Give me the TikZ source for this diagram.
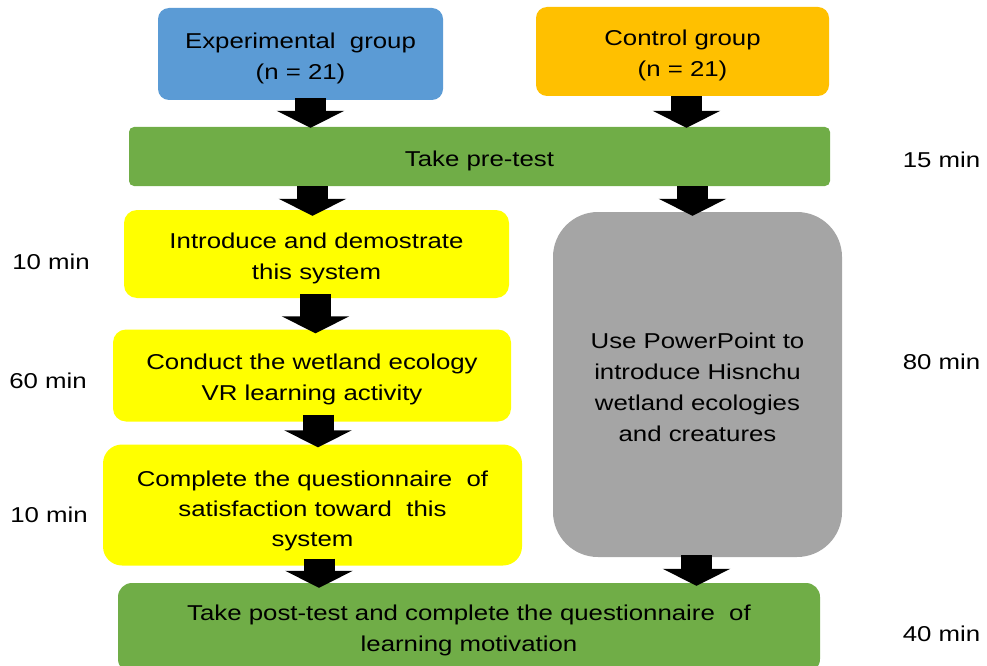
\documentclass[tikz,border=0pt]{standalone}
\usepackage{fontspec}
\setmainfont{Liberation Sans}[FakeStretch=1.2]
\usetikzlibrary{arrows.meta}

\definecolor{expblue}{HTML}{5B9BD5}
\definecolor{ctrlorange}{HTML}{FFC000}
\definecolor{testgreen}{HTML}{70AD47}
\definecolor{actyellow}{HTML}{FFFF00}
\definecolor{pptgray}{HTML}{A5A5A5}

\tikzset{
  box/.style={inner sep=0pt},
  txt/.style={inner sep=0pt, align=center, text=black,
    font=\fontsize{21.5}{31}\selectfont},
  timelabel/.style={inner sep=0pt, text=black,
    font=\fontsize{21.5}{31}\selectfont},
  blk/.style={draw=black, line width=31pt, line cap=butt,
    -{Triangle[width=67pt,length=17pt]}},
}

\begin{document}
\begin{tikzpicture}[x=1pt, y=-1pt]
\useasboundingbox (0,0) rectangle (987,666);

% group boxes
\node[box, fill=expblue, rounded corners=11pt, minimum width=285pt, minimum height=92pt]
  (exp) at (300.5,54) {};
\node[txt] (exp-t) at ([yshift=-4.5pt]exp.center) {Experimental\ \ group\\(n = 21)};
\node[box, fill=ctrlorange, rounded corners=11pt, minimum width=293pt, minimum height=89pt]
  (ctrl) at (682.5,51.5) {};
\node[txt] (ctrl-t) at ([yshift=-4pt]ctrl.center) {Control group\\(n = 21)};

% shared pre-test
\node[box, fill=testgreen, rounded corners=5pt, minimum width=701pt, minimum height=59pt]
  (pre) at (479.5,156.5) {};
\node[txt] (pre-t) at ([yshift=-4pt]pre.center) {Take pre-test};

% experimental activities
\node[box, fill=actyellow, rounded corners=13pt, minimum width=385pt, minimum height=88pt]
  (intro) at (316.5,254) {};
\node[txt] (intro-t) at ([yshift=-4.5pt]intro.center) {Introduce and demostrate\\this system};
\node[box, fill=actyellow, rounded corners=13pt, minimum width=398pt, minimum height=92pt]
  (vr) at (312,375.5) {};
\node[txt] (vr-t) at ([yshift=-4pt]vr.center) {Conduct the wetland ecology\\VR learning activity};
\node[box, fill=actyellow, rounded corners=19pt, minimum width=419pt, minimum height=121pt]
  (quest) at (312.5,505) {};
\node[txt, font=\fontsize{21.5}{30}\selectfont] (quest-t) at ([yshift=-5.5pt]quest.center)
  {Complete the questionnaire\ \ of\\satisfaction toward\ \ this\\system};

% control activity
\node[box, fill=pptgray, rounded corners=45pt, minimum width=289pt, minimum height=345pt]
  (ppt) at (697.5,384.5) {};
\node[txt] (ppt-t) at ([yshift=-2.5pt]ppt.center)
  {Use PowerPoint to\\introduce Hisnchu\\wetland ecologies\\and creatures};

% shared post-test
\node[box, fill=testgreen, rounded corners=14pt, minimum width=702pt, minimum height=90pt]
  (post) at (469,628) {};
\node[txt] (post-t) at ([yshift=-2.5pt]post.center)
  {Take post-test and complete the questionnaire\ \ of\\learning motivation};

% durations
\node[timelabel] (t1) at (941.5,160) {15 min};
\node[timelabel] (t2) at (51,262) {10 min};
\node[timelabel] (t3) at (48,381) {60 min};
\node[timelabel] (t4) at (941.5,362) {80 min};
\node[timelabel] (t5) at (49,515) {10 min};
\node[timelabel] (t6) at (941.5,634) {40 min};

% block arrows
\draw[blk] ([xshift=10pt,yshift=2pt]exp.south) -- ([xshift=10pt,yshift=-1pt]exp.south |- pre.north);
\draw[blk] ([xshift=4pt]ctrl.south) -- ([xshift=4pt,yshift=-1pt]ctrl.south |- pre.north);
\draw[blk] ([xshift=312.5pt]pre.south -| 0,0) -- ([xshift=312.5pt,yshift=-6pt]intro.north -| 0,0);
\draw[blk] ([xshift=692.5pt]pre.south -| 0,0) -- ([xshift=692.5pt,yshift=-4pt]ppt.north -| 0,0);
\draw[blk] ([xshift=-1pt,yshift=4pt]intro.south) -- ([xshift=-1pt,yshift=-4pt]intro.south |- vr.north);
\draw[blk] ([xshift=6pt,yshift=7pt]vr.south) -- ([xshift=6pt,yshift=-3pt]vr.south |- quest.north);
\draw[blk] ([xshift=6.5pt,yshift=7pt]quest.south) -- ([xshift=6.5pt,yshift=-5pt]quest.south |- post.north);
\draw[blk] ([xshift=-1pt,yshift=2pt]ppt.south) -- ([xshift=-1pt,yshift=-3pt]ppt.south |- post.north);
\end{tikzpicture}
\end{document}
